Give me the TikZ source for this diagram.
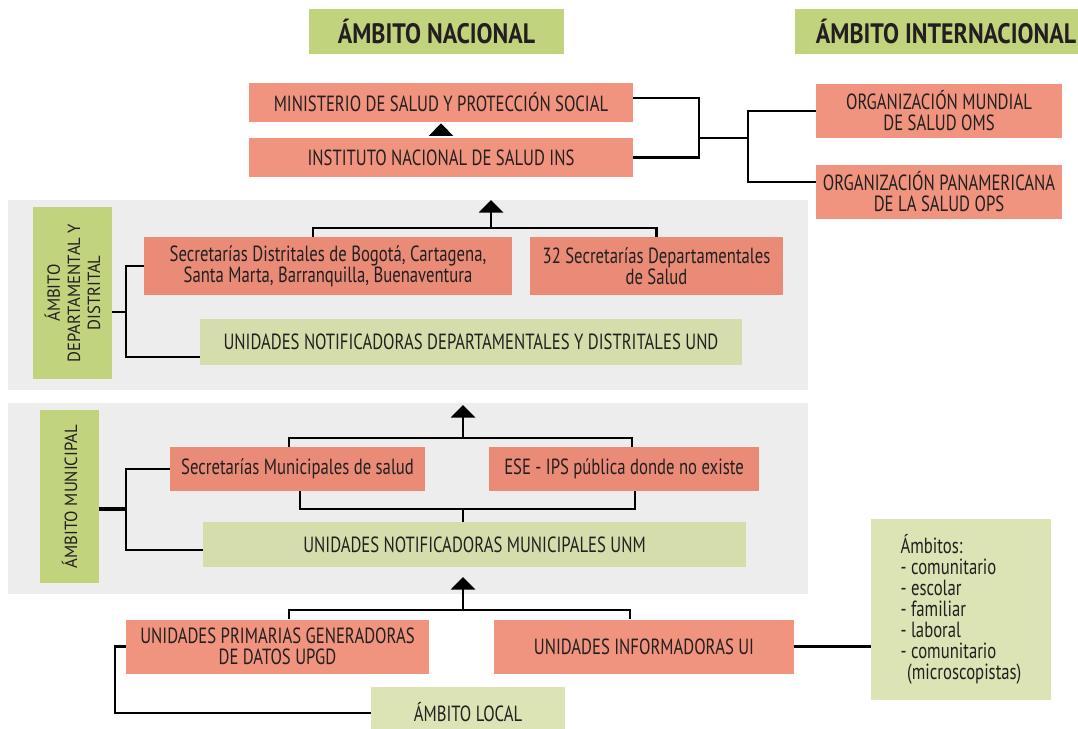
\documentclass[tikz,border=0pt]{standalone}
\usepackage{fontspec}
\setmainfont{PT Sans}[FakeStretch=0.76]
\newfontfamily\lblfont{PT Sans}[FakeStretch=0.95]
\newfontfamily\hdrfont{PT Sans}[FakeStretch=0.85]
\usetikzlibrary{arrows.meta}

\definecolor{hdrgreen}{RGB}{194,211,125}
\definecolor{palegreen}{RGB}{213,221,172}
\definecolor{lightgreen}{RGB}{220,228,182}
\definecolor{salmon}{RGB}{240,148,127}
\definecolor{salmondk}{RGB}{234,139,120}
\definecolor{panelgray}{RGB}{237,237,237}
\definecolor{txt}{RGB}{35,31,32}

\tikzset{
  hdr/.style={fill=hdrgreen, text=txt, inner sep=0pt, font=\hdrfont\fontsize{16}{18}\selectfont\bfseries},
  salm/.style={fill=salmon, text=txt, inner sep=0pt, align=center, font=\fontsize{12.5}{12}\selectfont},
  salmdk/.style={salm, fill=salmondk},
  pale/.style={salm, fill=palegreen},
  lbl/.style={fill=hdrgreen, text=txt, inner sep=0pt, rotate=90, align=center, font=\lblfont\fontsize{10}{11.5}\selectfont},
  conn/.style={line width=1.3pt, black},
  arr/.style={conn, -{Triangle[width=0.48cm, length=0.25cm]}}
}

\begin{document}
\begin{tikzpicture}[x=0.02cm, y=-0.02cm]
\useasboundingbox (0,0) rectangle (1078,728);

% grey panels
\fill[panelgray] (8,200) rectangle (808,390);
\fill[panelgray] (8,403) rectangle (808,594);

% headers
\node[hdr, minimum width=5.1cm, minimum height=0.9cm] (hdrnac) at (436.5,31.5) {ÁMBITO NACIONAL};
\node[hdr, minimum width=6.04cm, minimum height=0.9cm] (hdrint) at (946,31.5) {ÁMBITO INTERNACIONAL};

% national level
\node[salm, minimum width=7.68cm, minimum height=0.78cm] (minis) at (441,102.5) {MINISTERIO DE SALUD Y PROTECCIÓN SOCIAL};
\node[salm, minimum width=7.68cm, minimum height=0.78cm] (ins) at (441,157.5) {INSTITUTO NACIONAL DE SALUD INS};
\draw[arr, shorten <=0.06cm, shorten >=0.02cm] (ins.north) -- (minis.south);

% international level
\node[salm, minimum width=4.92cm, minimum height=1.08cm] (oms) at (939,111) {ORGANIZACIÓN MUNDIAL\\DE SALUD OMS};
\node[salm, minimum width=4.92cm, minimum height=1.08cm] (ops) at (939,192) {ORGANIZACIÓN PANAMERICANA\\DE LA SALUD OPS};

\coordinate (jn) at (699,138);
\coordinate (ji) at (748,138);
\draw[conn] ([yshift=0.09cm]minis.east) -| (jn) |- (ins.east);
\draw[conn] (jn) -- (ji);
\draw[conn] (oms.west) -| (ji) |- ([yshift=0.2cm]ops.west);

% departmental and district level
\node[lbl, minimum width=3.46cm, minimum height=1.58cm] (lbldep) at (72.5,293) {ÁMBITO\\DEPARTAMENTAL Y\\DISTRITAL};
\node[salmdk, minimum width=7.36cm, minimum height=1.16cm] (secdis) at (328,266) {Secretarías Distritales de Bogotá, Cartagena,\\Santa Marta, Barranquilla, Buenaventura};
\node[salmdk, minimum width=5.06cm, minimum height=1.16cm] (secdep) at (656.5,266) {32 Secretarías Departamentales\\de Salud};
\node[pale, minimum width=10.84cm, minimum height=0.92cm] (und) at (471,341.5) {UNIDADES NOTIFICADORAS DEPARTAMENTALES Y DISTRITALES UND};

\coordinate (bdep) at (491,228);
\coordinate (tdep) at (491,200);
\draw[conn] ([xshift=-0.3cm]secdis.north) |- (bdep) -| (secdep.north);
\draw[arr] (bdep) -- (tdep);

\coordinate (kdep) at (126,312);
\draw[conn] (secdis.west) -| (kdep) |- ([yshift=-0.31cm]und.west);
\draw[conn] (lbldep.south |- kdep) -- (kdep);

% municipal level
\node[lbl, minimum width=3.46cm, minimum height=1.18cm] (lblmun) at (69.5,496.5) {ÁMBITO MUNICIPAL};
\node[salmdk, minimum width=5.1cm, minimum height=0.88cm] (secmun) at (297.5,469) {Secretarías Municipales de salud};
\node[salmdk, minimum width=5.4cm, minimum height=0.88cm] (ese) at (624,469) {ESE - IPS pública donde no existe};
\node[pale, minimum width=10.86cm, minimum height=0.9cm] (unm) at (474.5,544.5) {UNIDADES NOTIFICADORAS MUNICIPALES UNM};

\coordinate (bmun) at (463,438);
\coordinate (tmun) at (463,405);
\draw[conn] ([xshift=-0.17cm]secmun.north) |- (bmun) -| ([xshift=0.16cm]ese.north);
\draw[arr] (bmun) -- (tmun);

\coordinate (cmun) at (463,509);
\draw[conn] ([xshift=0.05cm]secmun.south) |- (cmun) -| ([xshift=0.22cm]ese.south);
\draw[conn] (cmun) -- (cmun |- unm.north);

\coordinate (kmun) at (126,509);
\draw[conn] (secmun.west) -| (kmun) |- ([yshift=-0.11cm]unm.west);
\draw[conn, line width=2.2pt] (lblmun.south |- kmun) -- (kmun);

% local level
\node[salm, minimum width=6.06cm, minimum height=1.08cm] (upgd) at (277.5,646.5) {UNIDADES PRIMARIAS GENERADORAS\\DE DATOS UPGD};
\node[salm, minimum width=6cm, minimum height=1.08cm] (ui) at (644,646.5) {UNIDADES INFORMADORAS UI};
\node[salm, fill=lightgreen, minimum width=3.88cm, minimum height=1cm] (local) at (468,712) {ÁMBITO LOCAL};
\node[salm, fill=lightgreen, align=left, minimum width=3.6cm, minimum height=3.62cm] (amb) at (961,609.5)
  {Ámbitos:\\- comunitario\\- escolar\\- familiar\\- laboral\\- comunitario\\\hspace*{0.3em}(microscopistas)};

\coordinate (bloc) at (463,610);
\coordinate (tloc) at (463,577);
\draw[conn] ([xshift=0.23cm]upgd.north) |- (bloc) -| ([xshift=-0.28cm]ui.north);
\draw[arr] (bloc) -- (tloc);

\coordinate (kloc) at (115,680);
\draw[conn] (upgd.west) -| (kloc) |- ([yshift=-0.02cm]local.west);
\draw[conn] (ui.east) -- (ui.east -| amb.west);

\end{tikzpicture}
\end{document}
